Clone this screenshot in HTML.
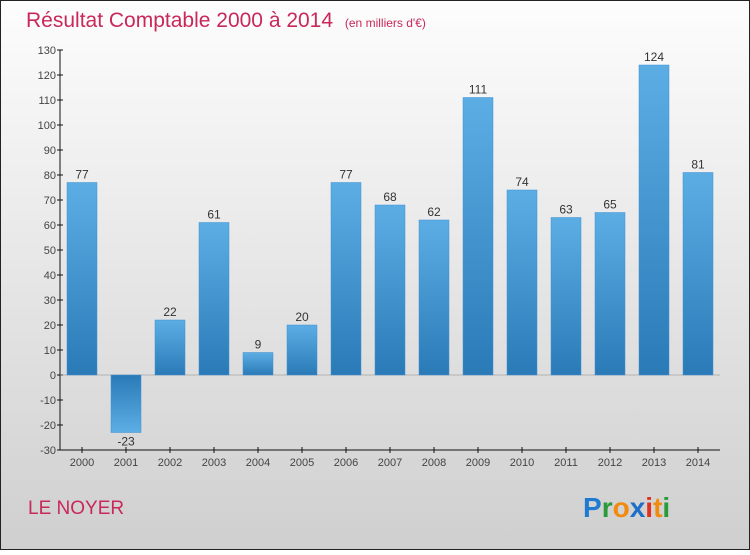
<!DOCTYPE html>
<html><head><meta charset="utf-8"><style>
body{margin:0}
#c{width:750px;height:550px;position:relative;font-family:"Liberation Sans",sans-serif}
</style></head><body>
<div id="c">
<svg width="750" height="550" xmlns="http://www.w3.org/2000/svg">
<defs>
<linearGradient id="bg" x1="0" y1="0" x2="0" y2="1"><stop offset="0" stop-color="#fdfdfd"/><stop offset="1" stop-color="#cfcfcf"/></linearGradient>
<linearGradient id="bar" x1="0" y1="0" x2="0" y2="1"><stop offset="0" stop-color="#5dade5"/><stop offset="1" stop-color="#2a7ab8"/></linearGradient>
<linearGradient id="barn" x1="0" y1="0" x2="0" y2="1"><stop offset="0" stop-color="#2a7ab8"/><stop offset="1" stop-color="#5dade5"/></linearGradient>
</defs>
<rect x="0.5" y="0.5" width="749" height="549" fill="url(#bg)" stroke="#222"/>
<text x="26" y="27" font-size="21" fill="#c8285a">Résultat Comptable 2000 à 2014 <tspan font-size="12" dx="6">(en milliers d'€)</tspan></text>
<g id="axes"></g>
<g id="bars"></g>
<text x="28" y="514" font-size="19" fill="#c8285a">LE NOYER</text>
<g font-size="28" font-weight="bold" font-family="Liberation Sans,sans-serif">
<text x="583" y="517"><tspan fill="#1e7bd0">P</tspan><tspan fill="#2a9a3a">r</tspan><tspan fill="#f28a10">o</tspan><tspan fill="#1e6fc8">x</tspan><tspan fill="#e03020">i</tspan><tspan fill="#f28a10">t</tspan><tspan fill="#2a9a3a">i</tspan></text>
</g>
</svg>
</div>
<script>
const years=["2000","2001","2002","2003","2004","2005","2006","2007","2008","2009","2010","2011","2012","2013","2014"];
const values=[77,-23,22,61,9,20,77,68,62,111,74,63,65,124,81];
const yTicks=[-30,-20,-10,0,10,20,30,40,50,60,70,80,90,100,110,120,130];
const NS="http://www.w3.org/2000/svg";
const y=v=>375-v*2.5;
const x=i=>82+i*44;
function mk(t,a,p){const e=document.createElementNS(NS,t);for(const k in a)e.setAttribute(k,a[k]);p.appendChild(e);return e;}
const ax=document.getElementById('axes'),bg=document.getElementById('bars');
const yl=mk('line',{x1:60,y1:y(130),x2:60,y2:y(-30),stroke:'#111'},ax);


const xl=mk('line',{x1:60,y1:y(-30),x2:720,y2:y(-30),stroke:'#111'},ax);


yTicks.forEach(t=>{
 mk('line',{x1:57,x2:63,y1:y(t),y2:y(t),stroke:'#111'},ax);
 const tx=mk('text',{x:56,y:y(t)+4,'font-size':11,fill:'#444','text-anchor':'end'},ax);tx.textContent=t;
 
 
});
mk('line',{x1:60,x2:720,y1:y(0),y2:y(0),stroke:'#888','stroke-width':0.5},ax);
years.forEach((yr,i)=>{
 const cx=x(i),v=values[i];
 mk('line',{x1:cx,x2:cx,y1:y(-30)-3,y2:y(-30)+3,stroke:'#111'},ax);
 const tl=mk('text',{x:cx,y:466,'font-size':11,fill:'#444','text-anchor':'middle'},ax);tl.textContent=yr;
 
 
 const top=Math.min(y(v),y(0)),h=Math.abs(y(v)-y(0));
 const r=mk('rect',{x:cx-15,y:top,width:30,height:h,fill:v<0?'url(#barn)':'url(#bar)',stroke:'#3f8fd0','stroke-width':0.5},bg);
 
 
 const lb=mk('text',{x:cx,y:v<0?y(v)+13:y(v)-4,'font-size':12,fill:'#333','text-anchor':'middle'},bg);lb.textContent=v;
 
 
});
</script>
</body></html>
